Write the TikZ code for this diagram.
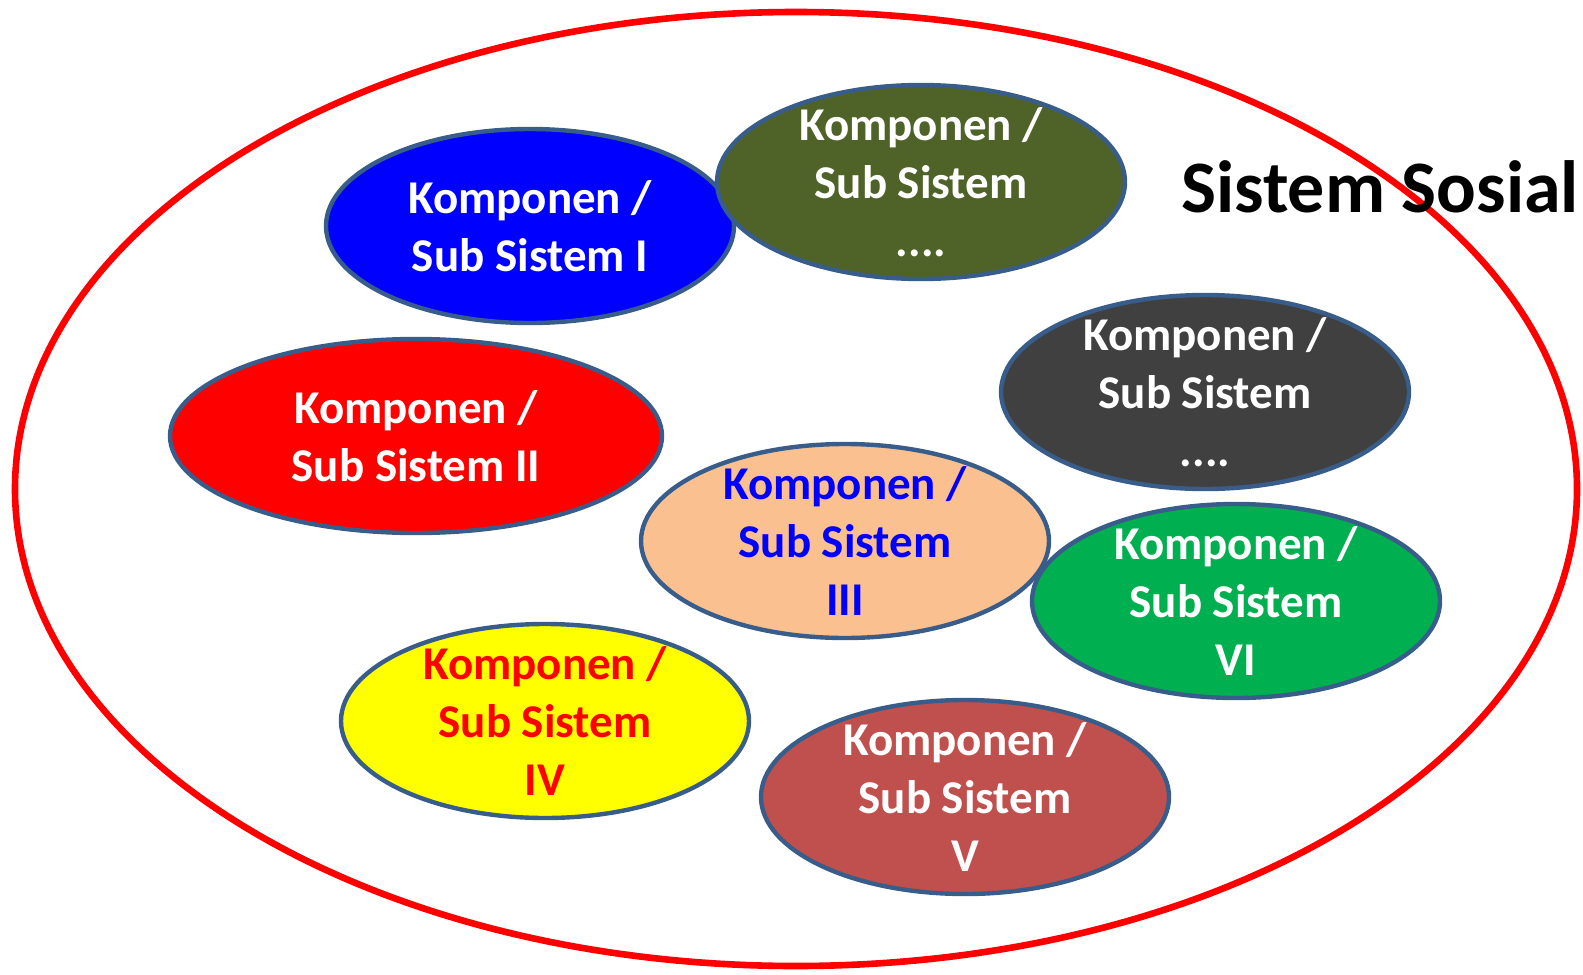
\documentclass[tikz,border=0pt]{standalone}
\usepackage{fontspec}
\setmainfont{Carlito}
\usetikzlibrary{shapes.geometric}
\definecolor{olv}{HTML}{4F6228}
\definecolor{dgr}{HTML}{404040}
\definecolor{pch}{HTML}{FAC090}
\definecolor{grn}{HTML}{00B050}
\definecolor{brn}{HTML}{C0504D}
\definecolor{edge}{HTML}{385D8A}
\definecolor{yel}{HTML}{FFFF00}
\definecolor{rd}{HTML}{FF0000}
\definecolor{bl}{HTML}{0000FF}
\tikzset{
  sub/.style={ellipse, draw=edge, line width=2.2pt, inner sep=0pt,
    minimum width=204pt, minimum height=97pt},
  lbl/.style={align=center, font=\bfseries\fontsize{23.5}{29}\selectfont, text=white},
  outer/.style={ellipse, draw=rd, line width=3.3pt, inner sep=0pt}
}
\begin{document}
\begin{tikzpicture}[x=0.5pt,y=-0.5pt]
\useasboundingbox (0,0) rectangle (1583,974);
\node[outer, minimum width=781pt, minimum height=477pt] (sys) at (796,489) {};
\node[anchor=base west, font=\bfseries\fontsize{37}{43}\selectfont] (title) at (1174,212) {Sistem Sosial};
\node[sub, fill=bl] (s1) at (530,226) {};
\node[sub, fill=olv] (s2) at (921,182) {};
\node[sub, fill=rd, minimum width=246pt] (s3) at (416,436) {};
\node[sub, fill=dgr] (s4) at (1205,392) {};
\node[sub, fill=pch] (s5) at (845,541) {};
\node[sub, fill=grn] (s6) at (1236,601) {};
\node[sub, fill=yel] (s7) at (545,721) {};
\node[sub, fill=brn] (s8) at (965,797) {};
\node[lbl] (t1) at (s1) {Komponen /\\Sub Sistem I};
\node[lbl] (t2) at (s2) {Komponen /\\Sub Sistem\\....};
\node[lbl] (t3) at (s3) {Komponen /\\Sub Sistem II};
\node[lbl] (t4) at (s4) {Komponen /\\Sub Sistem\\....};
\node[lbl, text=bl] (t5) at (s5) {Komponen /\\Sub Sistem\\III};
\node[lbl] (t6) at (s6) {Komponen /\\Sub Sistem\\VI};
\node[lbl, text=rd] (t7) at (s7) {Komponen /\\Sub Sistem\\IV};
\node[lbl] (t8) at (s8) {Komponen /\\Sub Sistem\\V};
\end{tikzpicture}
\end{document}
